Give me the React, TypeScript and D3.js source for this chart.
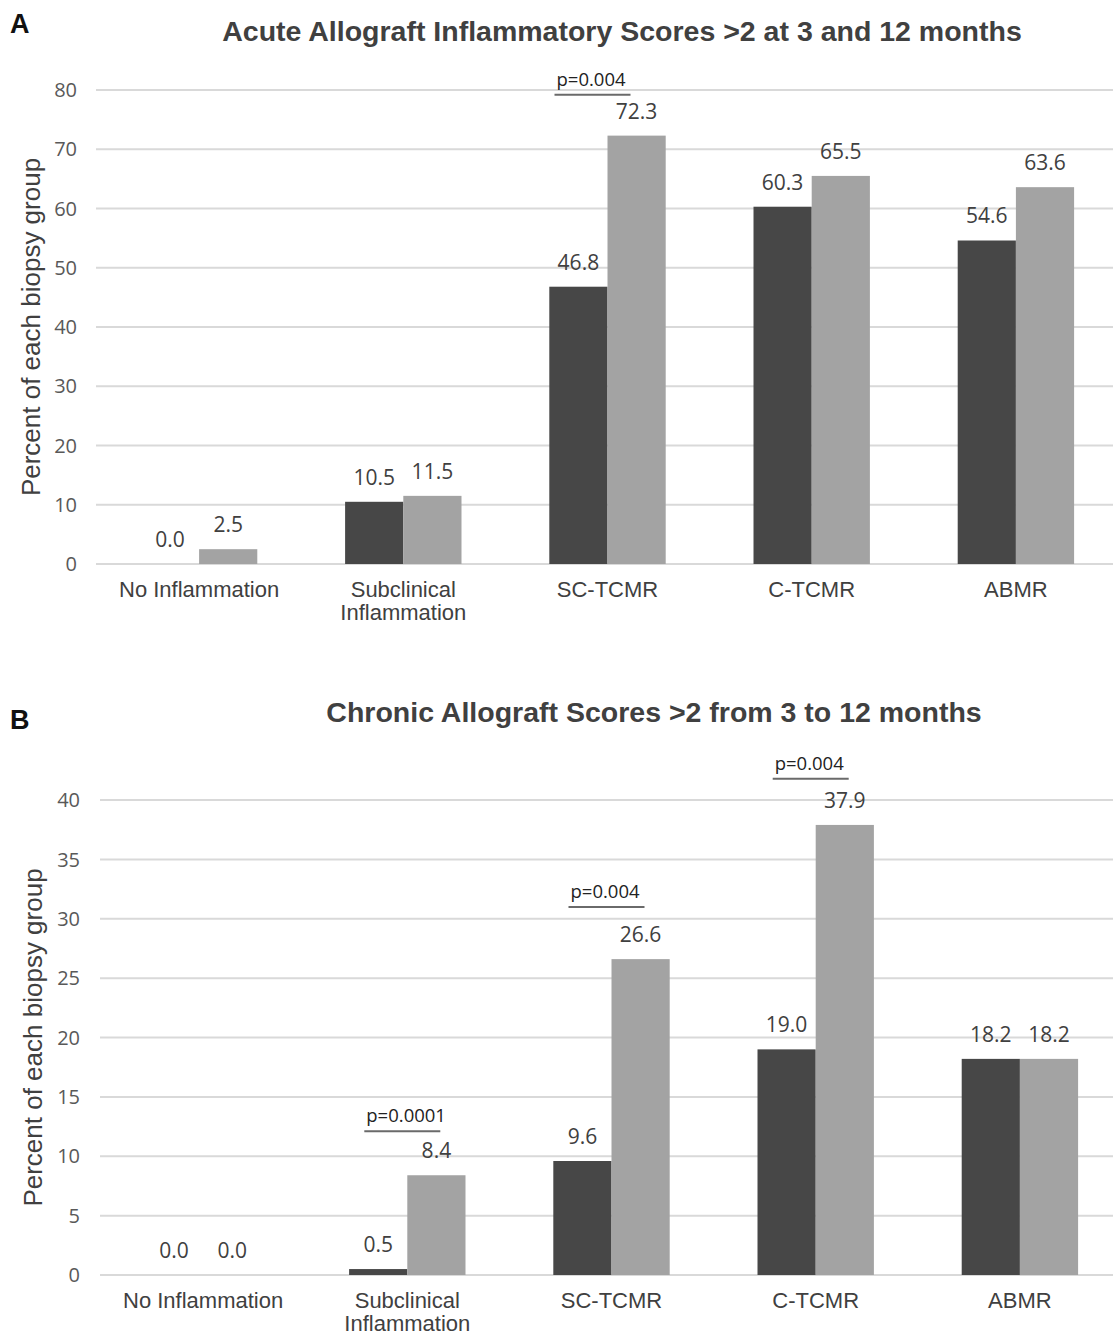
import React from "react";
import * as d3 from "d3";

const categories = ["No Inflammation", "Subclinical Inflammation", "SC-TCMR", "C-TCMR", "ABMR"];
const seriesKeys = ["3 months", "12 months"];

const acute3 = [0.0, 10.5, 46.8, 60.3, 54.6];
const acute12 = [2.5, 11.5, 72.3, 65.5, 63.6];

const chronic3 = [0.0, 0.5, 9.6, 19.0, 18.2];
const chronic12 = [0.0, 8.4, 26.6, 37.9, 18.2];

const acuteTicks = [0, 10, 20, 30, 40, 50, 60, 70, 80];
const chronicTicks = [0, 5, 10, 15, 20, 25, 30, 35, 40];

const acuteSig = [{ cat: "SC-TCMR", label: "p=0.004", level: 79.2 }];
const chronicSig = [
  { cat: "Subclinical Inflammation", label: "p=0.0001", level: 12.1 },
  { cat: "SC-TCMR", label: "p=0.004", level: 31.0 },
  { cat: "C-TCMR", label: "p=0.004", level: 41.8 },
];

const DARK = "#474747";
const LIGHT = "#a3a3a3";
const GRID = "#d9d9d9";
const SANS = "'Liberation Sans', Arial, sans-serif";
const NUM = "'Open Sans', 'Noto Sans', sans-serif";

type Sig = { cat: string; label: string; level: number };

type PanelProps = {
  letter: string;
  title: string;
  titleX: number;
  titleY: number;
  letterY: number;
  early: number[];
  late: number[];
  ticks: number[];
  yPix: [number, number];
  xPix: [number, number];
  tickX: number;
  axisTitleX: number;
  sig: Sig[];
  sigShift: number;
};

function Panel(p: PanelProps) {
  const x = d3
    .scaleBand<string>()
    .domain(categories)
    .range(p.xPix)
    .paddingInner(0.43)
    .paddingOuter(0.215);
  const x1 = d3.scaleBand<string>().domain(seriesKeys).range([0, x.bandwidth()]);
  const y = d3
    .scaleLinear()
    .domain([0, d3.max(p.ticks) as number])
    .range(p.yPix);

  const rows = categories.map((c, i) => ({ c, vals: [p.early[i], p.late[i]] }));
  const yMid = (p.yPix[0] + p.yPix[1]) / 2;

  return (
    <g>
      <text x={10} y={p.letterY} fontFamily={SANS} fontWeight="bold" fontSize={27} fill="#111">
        {p.letter}
      </text>
      <text
        x={p.titleX}
        y={p.titleY}
        textAnchor="middle"
        fontFamily={SANS}
        fontWeight="bold"
        fontSize={28.5}
        fill="#404040"
      >
        {p.title}
      </text>

      {p.ticks.map((t) => (
        <g key={t}>
          <line x1={p.xPix[0] - 1} x2={1113} y1={y(t)} y2={y(t)} stroke={GRID} strokeWidth={2} />
          <text
            x={p.tickX}
            y={y(t)}
            dy="0.36em"
            textAnchor="end"
            fontFamily={NUM}
            fontSize={20}
            fill="#595959"
          >
            {t}
          </text>
        </g>
      ))}

      <text
        transform={`translate(${p.axisTitleX},${yMid}) rotate(-90)`}
        textAnchor="middle"
        dy="0.35em"
        fontFamily={SANS}
        fontSize={26}
        fill="#404040"
      >
        Percent of each biopsy group
      </text>

      {rows.map((r) => (
        <g key={r.c} transform={`translate(${x(r.c)},0)`}>
          {r.vals.map((v, j) => (
            <g key={j}>
              <rect
                x={x1(seriesKeys[j])}
                y={y(v)}
                width={x1.bandwidth()}
                height={y(0) - y(v)}
                fill={j === 0 ? DARK : LIGHT}
              />
              <text
                x={(x1(seriesKeys[j]) as number) + x1.bandwidth() / 2}
                y={y(v) - 17}
                textAnchor="middle"
                fontFamily={NUM}
                fontSize={21}
                fill="#404040"
              >
                {v.toFixed(1)}
              </text>
            </g>
          ))}
          <text
            x={x.bandwidth() / 2}
            y={y(0) + 33}
            textAnchor="middle"
            fontFamily={SANS}
            fontSize={22}
            fill="#404040"
          >
            {r.c.startsWith("Subclinical") ? (
              <>
                <tspan x={x.bandwidth() / 2}>Subclinical</tspan>
                <tspan x={x.bandwidth() / 2} dy={23}>
                  Inflammation
                </tspan>
              </>
            ) : (
              r.c
            )}
          </text>
        </g>
      ))}

      {p.sig.map((s) => {
        const cx = (x(s.cat) as number) + x.bandwidth() / 2 + p.sigShift;
        return (
          <g key={s.cat}>
            <line
              x1={cx - 38}
              x2={cx + 38}
              y1={y(s.level)}
              y2={y(s.level)}
              stroke="#6a6a6a"
              strokeWidth={2}
            />
            <text
              x={cx - 36}
              y={y(s.level) - 9}
              fontFamily={NUM}
              fontSize={18.5}
              fill="#222"
            >
              {s.label}
            </text>
          </g>
        );
      })}
    </g>
  );
}

export default function App() {
  return (
    <svg
      width={1113}
      height={1337}
      style={{ position: "absolute", left: 0, top: 0, background: "#fff" }}
    >
      <rect width={1113} height={1337} fill="#fff" />
      <Panel
        letter="A"
        title="Acute Allograft Inflammatory Scores >2 at 3 and 12 months"
        titleX={622}
        titleY={41}
        letterY={33}
        early={acute3}
        late={acute12}
        ticks={acuteTicks}
        yPix={[564, 90]}
        xPix={[97, 1118]}
        tickX={77}
        axisTitleX={31}
        sig={acuteSig}
        sigShift={-15}
      />
      <Panel
        letter="B"
        title="Chronic Allograft Scores >2 from 3 to 12 months"
        titleX={654}
        titleY={722}
        letterY={729}
        early={chronic3}
        late={chronic12}
        ticks={chronicTicks}
        yPix={[1275, 800]}
        xPix={[101, 1122]}
        tickX={80}
        axisTitleX={33}
        sig={chronicSig}
        sigShift={-5}
      />
    </svg>
  );
}
